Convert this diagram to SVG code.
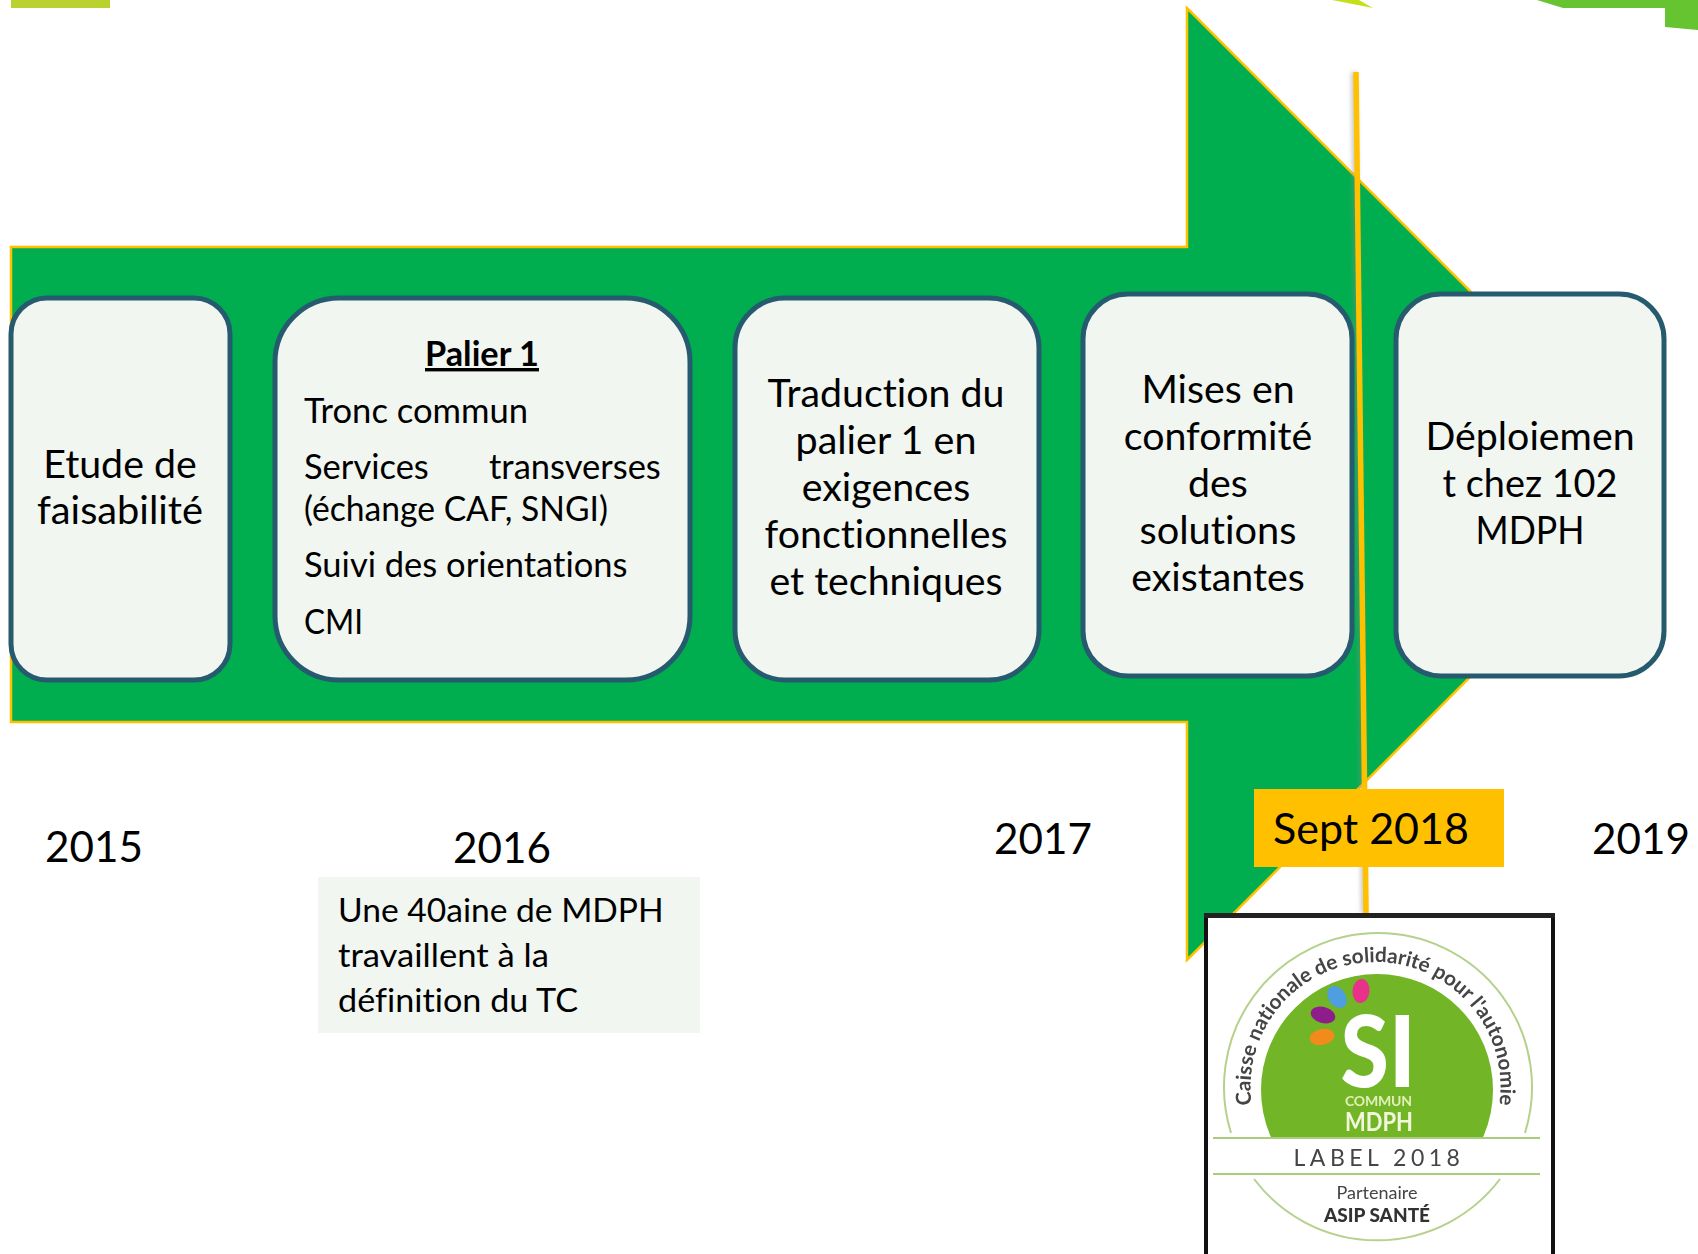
<svg xmlns="http://www.w3.org/2000/svg" width="1698" height="1254" viewBox="0 0 1698 1254">
<style>
text{font-family:"Lato","Carlito","Open Sans",sans-serif;fill:#000;font-variant-ligatures:none}
.n{fill:#f1f6f0;stroke:#265a6e;stroke-width:5}
.t{font-size:39.3px;text-anchor:middle}
.s{font-size:34.5px}
.y{font-size:42.2px}
.b{font-size:33.6px}
.lg{fill:#444}
</style>
<defs>
<path id="arc" d="M1251.8 1105A125 125 0 1 1 1499.2 1105"/>
<clipPath id="discClip"><rect x="1200" y="900" width="360" height="238"/></clipPath>
<filter id="soft" x="-20%" y="-20%" width="140%" height="140%"><feGaussianBlur stdDeviation="0.5"/></filter>
<filter id="shadow" x="-300%" y="-5%" width="700%" height="110%"><feGaussianBlur stdDeviation="2"/></filter>
</defs>
<rect width="1698" height="1254" fill="#fff"/>
<g id="top-decor">
<rect x="11" y="0" width="99" height="8" fill="#b9d22f"/>
<polygon points="1332,0 1373,8 1359,0" fill="#c3e01a"/>
<polygon points="1537,0 1563,8 1665,8 1665,27 1698,30 1698,0" fill="#66c430"/>
</g>
<g id="arrow"><polygon points="11,247 1187,247 1187,8 1663,484 1187,960 1187,722 11,722" fill="#00ae4f" stroke="#ffc000" stroke-width="2.5"/></g>
<g id="connectors">
<line x1="1354" y1="72" x2="1364" y2="913" stroke="#888" stroke-opacity=".45" stroke-width="6" filter="url(#shadow)"/>
<line x1="1356" y1="72" x2="1366" y2="913" stroke="#ffc000" stroke-width="5.5"/>
</g>
<g id="node-etude"><rect class="n" x="11" y="298" width="219" height="382" rx="36"/>
<text class="t" x="120" y="478">Etude de</text><text class="t" x="120" y="524" textLength="166" lengthAdjust="spacingAndGlyphs">faisabilité</text></g>
<g id="node-palier"><rect class="n" x="275" y="298" width="415" height="382" rx="64"/>
<text x="482" y="366" text-anchor="middle" font-size="34" font-weight="700" text-decoration="underline" textLength="114" lengthAdjust="spacingAndGlyphs">Palier 1</text>
<text class="s" x="304" y="423" textLength="224" lengthAdjust="spacingAndGlyphs">Tronc commun</text>
<text class="s" y="479"><tspan x="304">Services</tspan><tspan x="489">transverses</tspan></text>
<text class="s" x="304" y="521" textLength="304" lengthAdjust="spacingAndGlyphs">(échange CAF, SNGI)</text>
<text class="s" x="304" y="577">Suivi des orientations</text>
<text class="s" x="304" y="634" textLength="59" lengthAdjust="spacingAndGlyphs">CMI</text></g>
<g id="node-traduction"><rect class="n" x="735" y="298" width="304" height="382" rx="50"/>
<text class="t" x="886" y="407">Traduction du</text><text class="t" x="886" y="454" textLength="181" lengthAdjust="spacingAndGlyphs">palier 1 en</text><text class="t" x="886" y="501">exigences</text><text class="t" x="886" y="548">fonctionnelles</text><text class="t" x="886" y="595">et techniques</text></g>
<g id="node-conformite"><rect class="n" x="1083" y="294" width="269" height="382" rx="45"/>
<text class="t" x="1218" y="403">Mises en</text><text class="t" x="1218" y="450">conformité</text><text class="t" x="1218" y="497">des</text><text class="t" x="1218" y="544" textLength="157" lengthAdjust="spacingAndGlyphs">solutions</text><text class="t" x="1218" y="591">existantes</text></g>
<g id="node-deploiement"><rect class="n" x="1396" y="294" width="268" height="382" rx="45"/>
<text class="t" x="1530" y="450">Déploiemen</text><text class="t" x="1530" y="497" textLength="175" lengthAdjust="spacingAndGlyphs">t chez 102</text><text class="t" x="1530" y="544" textLength="109" lengthAdjust="spacingAndGlyphs">MDPH</text></g>
<g id="years">
<text class="y" x="45" y="862">2015</text>
<text class="y" x="453" y="863">2016</text>
<text class="y" x="994" y="854">2017</text>
<text class="y" x="1592" y="854">2019</text>
</g>
<g id="note"><rect x="318" y="877" width="382" height="156" fill="#f1f6f0"/>
<text class="b" x="338" y="922">Une 40aine de MDPH</text>
<text class="b" x="338" y="967" textLength="211" lengthAdjust="spacingAndGlyphs">travaillent à la</text>
<text class="b" x="338" y="1012" textLength="240" lengthAdjust="spacingAndGlyphs">définition du TC</text></g>
<g id="sept"><rect x="1254" y="789" width="250" height="78" fill="#ffc000"/>
<text x="1273" y="844" font-size="43">Sept 2018</text></g>
<g id="logo">
<rect x="1206" y="915" width="347" height="345" fill="#fff" stroke="#111" stroke-width="4"/>
<rect x="1204" y="913" width="351" height="5" fill="#222"/>
<g filter="url(#soft)">
<path d="M1231 1133A154 154 0 1 1 1525 1133M1254 1179A154 154 0 0 0 1500 1179" fill="none" stroke="#b5d18c" stroke-width="2"/>
<circle cx="1377" cy="1090" r="116" fill="#72b526" clip-path="url(#discClip)"/>
<line x1="1213" y1="1138" x2="1540" y2="1138" stroke="#a9cd7c" stroke-width="2"/>
<line x1="1213" y1="1174" x2="1540" y2="1174" stroke="#a9cd7c" stroke-width="2"/>
<ellipse cx="1361" cy="991" rx="12" ry="8.5" transform="rotate(95 1361 991)" fill="#e8308a"/>
<ellipse cx="1337" cy="997" rx="12" ry="8.5" transform="rotate(55 1337 997)" fill="#4f9fe0"/>
<ellipse cx="1323" cy="1015" rx="12.5" ry="8" transform="rotate(15 1323 1015)" fill="#8e1e8a"/>
<ellipse cx="1322" cy="1037" rx="12.5" ry="8" transform="rotate(-12 1322 1037)" fill="#f28a1e"/>
<text x="1378" y="1087" font-size="100" font-weight="900" text-anchor="middle" textLength="75" lengthAdjust="spacingAndGlyphs" style="fill:#fff">SI</text>
<text x="1345" y="1106" font-size="14" font-weight="700" textLength="67" lengthAdjust="spacing" style="fill:#e2efb8">COMMUN</text>
<text x="1345" y="1131" font-size="27" font-weight="700" textLength="68" lengthAdjust="spacingAndGlyphs" style="fill:#f2f7dc">MDPH</text>
<text class="lg" font-size="20.7" font-weight="700"><textPath href="#arc" startOffset="50%" text-anchor="middle">Caisse nationale de solidarité pour l'autonomie</textPath></text>
<text class="lg" x="1379" y="1166" font-size="23" letter-spacing="4.5" text-anchor="middle">LABEL 2018</text>
<text class="lg" x="1377" y="1199" font-size="18" text-anchor="middle">Partenaire</text>
<text x="1377" y="1222" font-size="19" font-weight="900" text-anchor="middle" style="fill:#333">ASIP SANTÉ</text>
</g></g>
</svg>
